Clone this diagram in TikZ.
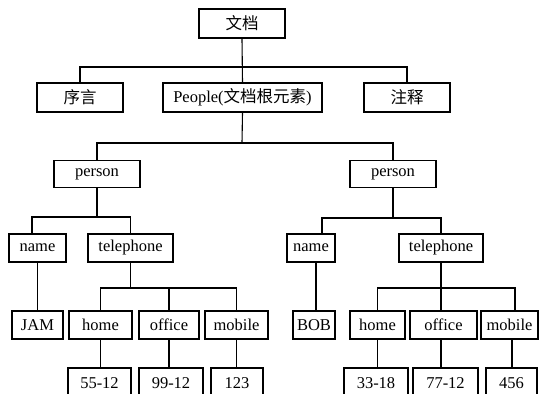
\documentclass[tikz,border=0pt]{standalone}
\usepackage{fontspec}
\setmainfont{Liberation Serif}
\newfontfamily\cjk{Noto Sans CJK SC}
\begin{document}
\begin{tikzpicture}[x=1pt,y=-1pt,
  box/.style={draw,line width=1.1pt,inner sep=0pt,minimum height=28pt,
    font=\fontsize{16.5}{19}\selectfont},
  conn/.style={line width=1.1pt}]
\useasboundingbox (0,0) rectangle (542,394);
\clip (0,0) rectangle (542,394);
\fill[white] (0,0) rectangle (542,394);
% level 0
\node[box,minimum width=86pt,minimum height=29pt] (doc) at (242,23.5) {\cjk 文档};
% level 1
\node[box,minimum width=86pt,minimum height=29pt] (pre) at (80,97.5) {\cjk 序言};
\node[box,minimum width=159pt,minimum height=29pt] (ppl) at (242.5,97.5) {People({\cjk 文档根元素})};
\node[box,minimum width=86pt,minimum height=29pt] (note) at (407,97.5) {\cjk 注释};
% level 2
\node[box,minimum width=86pt,minimum height=27pt] (perL) at (97,174) {person};
\node[box,minimum width=86pt,minimum height=27pt] (perR) at (393,174) {person};
% level 3
\node[box,minimum width=57pt] (nameL) at (37.5,248) {name};
\node[box,minimum width=85pt] (telL) at (130.5,248) {telephone};
\node[box,minimum width=48pt] (nameR) at (311,248) {name};
\node[box,minimum width=84pt] (telR) at (441,248) {telephone};
% level 4
\node[box,minimum width=51pt] (jam) at (37.5,325) {JAM};
\node[box,minimum width=63pt] (homeL) at (100.5,325) {home};
\node[box,minimum width=60pt] (officeL) at (169,325) {office};
\node[box,minimum width=63pt] (mobileL) at (236.5,325) {mobile};
\node[box,minimum width=42pt] (bob) at (314,325) {BOB};
\node[box,minimum width=55pt] (homeR) at (377.5,325) {home};
\node[box,minimum width=67pt] (officeR) at (443.5,325) {office};
\node[box,minimum width=57pt] (mobileR) at (509.5,325) {mobile};
% level 5 (cut off at the bottom)
\node[box,minimum width=63pt,minimum height=30pt] (d1) at (99.5,383) {55-12};
\node[box,minimum width=64pt,minimum height=30pt] (d2) at (171,383) {99-12};
\node[box,minimum width=52pt,minimum height=30pt] (d3) at (237,383) {123};
\node[box,minimum width=64pt,minimum height=30pt] (d4) at (376,383) {33-18};
\node[box,minimum width=65pt,minimum height=30pt] (d5) at (445.5,383) {77-12};
\node[box,minimum width=51pt,minimum height=30pt] (d6) at (511.5,383) {456};
% bus coordinates
\coordinate (b0) at (242,67);
\coordinate (b1) at (242,143);
\coordinate (b2L) at (97,217);
\coordinate (b2R) at (393,218);
\coordinate (b3L) at (130.5,288);
\coordinate (b3R) at (441,288);
% connectors
\draw[conn] (doc.south) -- (ppl.north);
\draw[conn] (pre.north) |- (b0) -| (note.north);
\draw[conn] (ppl.south) -- (b1);
\draw[conn] (perL.north) |- (b1) -| (perR.north);
\draw[conn] (perL.south) -- (b2L);
\draw[conn] ([xshift=-5.5pt]nameL.north) |- (b2L) -| (telL.north);
\draw[conn] (perR.south) -- (b2R);
\draw[conn] ([xshift=11pt]nameR.north) |- (b2R) -| (telR.north);
\draw[conn] (telL.south) -- (b3L);
\draw[conn] (homeL.north) |- (b3L) -| (mobileL.north);
\draw[conn] (officeL.north) -- (officeL.north |- b3L);
\draw[conn] (telR.south) -- (telR.south |- officeR.north);
\draw[conn] (homeR.north) |- (b3R) -| ([xshift=5.5pt]mobileR.north);
\draw[conn] (nameL.south) -- (jam.north);
\draw[conn] ([xshift=2pt]bob.north) -- ([xshift=2pt]bob.north |- nameR.south);
\draw[conn] (homeL.south) -- (homeL.south |- d1.north);
\draw[conn] (officeL.south) -- (officeL.south |- d2.north);
\draw[conn] (mobileL.south) -- (mobileL.south |- d3.north);
\draw[conn] (homeR.south) -- (homeR.south |- d4.north);
\draw[conn] ([xshift=-2.5pt]officeR.south) -- ([xshift=-2.5pt]officeR.south |- d5.north);
\draw[conn] ([xshift=2.5pt]mobileR.south) -- ([xshift=2.5pt]mobileR.south |- d6.north);
\end{tikzpicture}
\end{document}
